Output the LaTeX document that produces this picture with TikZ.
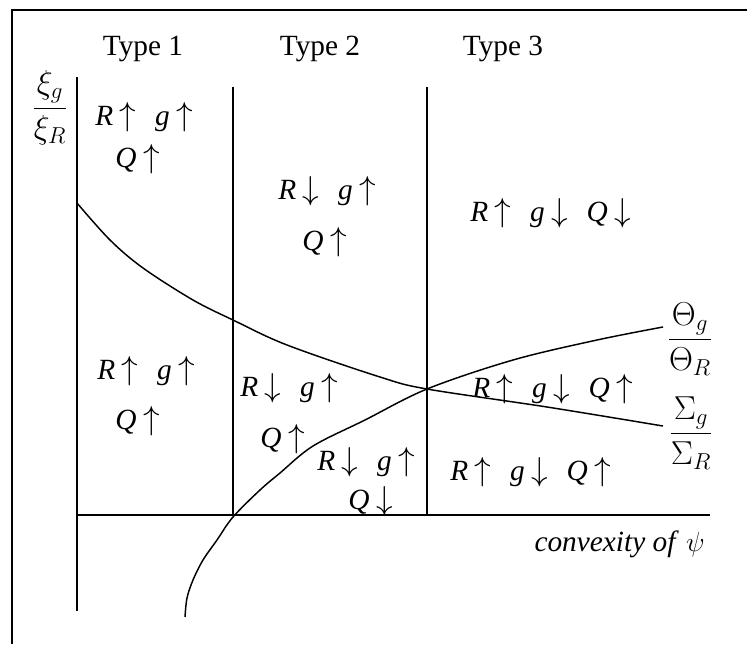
\documentclass[tikz,border=0pt]{standalone}
\usepackage{fontspec}
\setmainfont{Liberation Serif}
\newcommand{\rtok}[2]{\textit{#1}\kern5pt{\fontsize{26}{30}\selectfont$#2$}}
\newcommand{\tgap}{\hspace{14pt}}
\begin{document}
\begin{tikzpicture}[x=0.75pt,y=-0.75pt,
  frameline/.style={line width=1.1pt},
  axisline/.style={line width=1.5pt},
  curveline/.style={line width=1.1pt},
  lbl/.style={inner sep=0pt, anchor=base west, font=\fontsize{22}{26}\selectfont},
  ttl/.style={inner sep=0pt, anchor=base, font=\fontsize{22}{26}\selectfont},
  frc/.style={inner sep=0pt, font=\fontsize{26}{30}\selectfont}]
\useasboundingbox (0,0) rectangle (747,644);
% frame
\draw[frameline] (12,644) -- (12,10) -- (747,10);
% axes and dividers
\coordinate (yt) at (77,77);
\coordinate (yb) at (77,611);
\coordinate (xl) at (77,515);
\coordinate (xr) at (710,515);
\coordinate (d1t) at (233,87);
\coordinate (d1b) at (233,515);
\coordinate (d2t) at (427,87);
\coordinate (d2b) at (427,515);
\draw[axisline] (yt) -- (yb);
\draw[axisline] (xl) -- (xr);
\draw[axisline] (d1t) -- (d1b);
\draw[axisline] (d2t) -- (d2b);
% curves
\coordinate (cross) at (427,389);
\draw[curveline] plot[smooth, tension=0.55] coordinates {(77,203) (110,240) (143,268) (193,300) (233,320) (287,345) (380,377) (427,389) (547,407) (663,426)};
\draw[curveline] plot[smooth, tension=0.55] coordinates {(185,617) (187,598) (193,580) (203,560) (217,540) (233,517) (260,490) (280,473) (313,446) (365,420) (427,389) (513,360) (597,340) (663,327)};
% titles
\node[ttl] (t1) at (143,55) {Type 1};
\node[ttl] (t2) at (320,55) {Type 2};
\node[ttl] (t3) at (503,55) {Type 3};
% axis labels
\node[frc] (xi) at (50,108) {$\displaystyle\frac{\xi_g}{\xi_R}$};
\node[frc] (th) at (690,339) {$\displaystyle\frac{\Theta_g}{\Theta_R}$};
\node[frc] (sg) at (691,433) {$\displaystyle\frac{\Sigma_g}{\Sigma_R}$};
\node[inner sep=0pt, anchor=base east, font=\fontsize{22}{26}\selectfont] (cx) at (705,551) {\textit{convexity of} $\psi$};
% region labels
\node[lbl] (a1) at (95,125) {\rtok{R}{\uparrow}\tgap\rtok{g}{\uparrow}};
\node[lbl] (a2) at (115,167) {\rtok{Q}{\uparrow}};
\node[lbl] (b1) at (278,199) {\rtok{R}{\downarrow}\tgap\rtok{g}{\uparrow}};
\node[lbl] (b2) at (302,250) {\rtok{Q}{\uparrow}};
\node[lbl] (c1) at (470,221) {\rtok{R}{\uparrow}\tgap\rtok{g}{\downarrow}\tgap\rtok{Q}{\downarrow}};
\node[lbl] (d1) at (97,379) {\rtok{R}{\uparrow}\tgap\rtok{g}{\uparrow}};
\node[lbl] (d2) at (115,429) {\rtok{Q}{\uparrow}};
\node[lbl] (e1) at (240,396) {\rtok{R}{\downarrow}\tgap\rtok{g}{\uparrow}};
\node[lbl] (e2) at (260,447) {\rtok{Q}{\uparrow}};
\node[lbl] (f1) at (317,470) {\rtok{R}{\downarrow}\tgap\rtok{g}{\uparrow}};
\node[lbl] (f2) at (348,509) {\rtok{Q}{\downarrow}};
\node[lbl] (g1) at (472,397) {\rtok{R}{\uparrow}\tgap\rtok{g}{\downarrow}\tgap\rtok{Q}{\uparrow}};
\node[lbl] (h1) at (450,480) {\rtok{R}{\uparrow}\tgap\rtok{g}{\downarrow}\tgap\rtok{Q}{\uparrow}};
\end{tikzpicture}
\end{document}
